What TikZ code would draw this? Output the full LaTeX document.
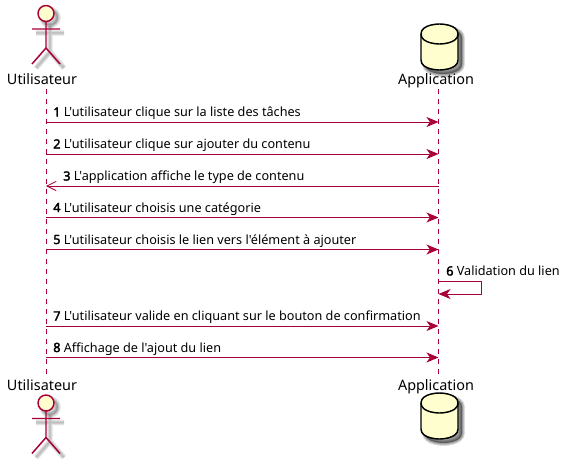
\documentclass[tikz,border=0pt]{standalone}
\usepackage{fontspec}
\setmainfont{Noto Sans}[Ligatures=TeXOff,AutoFakeBold=2.5]
\usetikzlibrary{positioning,arrows.meta}
\definecolor{umlred}{HTML}{A80036}
\definecolor{umlfill}{HTML}{FEFECE}
\newcommand{\dbbody}{(-18.5,10) .. controls (-18.5,0) and (0,0) .. (0,0) .. controls (0,0) and (18.5,0) .. (18.5,10)
  -- (18.5,36) .. controls (18.5,46) and (0,46) .. (0,46) .. controls (0,46) and (-18.5,46) .. (-18.5,36) -- cycle}
\newcommand{\actorbody}{(0,8) -- (0,34.5) (-14,15.5) -- (14,15.5) (0,34.5) -- (-14,50.5) (0,34.5) -- (14,50.5)}
\begin{document}
\begin{tikzpicture}[x=.75pt,y=-.75pt,line join=round,
  lifeline/.style={umlred,line width=.75pt,dash pattern=on 3.75pt off 3.75pt},
  msg/.style={umlred,line width=.75pt,-{Stealth[length=9pt,width=7.5pt,inset=2.6pt]}},
  msgback/.style={umlred,line width=.75pt,-{Straight Barb[length=7pt,width=7pt,line width=.6pt]}},
  partname/.style={font=\fontsize{10.8pt}{12pt}\selectfont,text=black,inner sep=0pt,anchor=base},
  msgtext/.style={font=\fontsize{9.5pt}{11pt}\selectfont,text=black,inner sep=0pt,anchor=base west},
  actorline/.style={umlred,line width=1.1pt},
  pics/actorfig/.style={code={
    % shadow
    \begin{scope}[shift={(4,4)}]
      \foreach \blur in {1,2,3,4}{
        \draw[black,opacity=.07,line width=\blur*1.1pt] \actorbody;
        \draw[black,opacity=.07,line width=\blur*1.1pt] (0,0) circle (8);
      }
      \fill[black,opacity=.2] (0,0) circle (8);
    \end{scope}
    \draw[actorline,fill=umlfill] (0,0) circle (8);
    \draw[actorline] \actorbody;
  }},
  pics/dbfig/.style={code={
    % shadow
    \begin{scope}[shift={(4,4)}]
      \foreach \blur in {1,2,3,4}{
        \draw[black,fill=black,opacity=.12,line width=\blur*1.1pt] \dbbody;
      }
    \end{scope}
    \draw[black,line width=1.1pt,fill=umlfill] \dbbody;
    \draw[black,line width=1.1pt] (-18.5,10) .. controls (-18.5,20) and (0,20) .. (0,20) .. controls (0,20) and (18.5,20) .. (18.5,10);
  }}]
  \useasboundingbox (0,0) rectangle (571,464);
  % participants
  \node[partname] (usertop) at (42,84.5) {Utilisateur};
  \node[partname] (apptop) at (436,84.5) {Application};
  \node[partname] (userbot) at (42,390) {Utilisateur};
  \node[partname] (appbot) at (436,390) {Application};
  \pic at (46,13.5) {actorfig};
  \pic at (46,403) {actorfig};
  \pic at (439.5,24) {dbfig};
  \pic at (439.5,393) {dbfig};
  \coordinate (utop) at (46,89);
  \coordinate (ubot) at (46,374);
  \coordinate (atop) at (438.5,89);
  \coordinate (abot) at (438.5,374);
  \draw[lifeline] (utop) -- (ubot);
  \draw[lifeline] (atop) -- (abot);
  % messages
  \foreach \name/\y in {m1/122,m2/154,m3/186,m4/217.5,m5/249.5,m6/281,m7/326,m8/357.5}{
    \coordinate (u\name) at (46,\y);
    \coordinate (a\name) at (438.5,\y);
  }
  \draw[msg] (um1) -- (am1);
  \draw[msg] (um2) -- (am2);
  \draw[msgback] (am3) -- (um3);
  \draw[msg] (um4) -- (am4);
  \draw[msg] (um5) -- (am5);
  \coordinate (selfa) at (481,281);
  \coordinate (selfb) at (481,294);
  \coordinate (selfc) at (438.5,294);
  \draw[msg] (am6) -- (selfa) -- (selfb) -- (selfc);
  \draw[msg] (um7) -- (am7);
  \draw[msg] (um8) -- (am8);
  % labels
  \node[msgtext] (t1) at (53,116.5) {\textbf{1} L'utilisateur clique sur la liste des tâches};
  \node[msgtext] (t2) at (53,148.5) {\textbf{2} L'utilisateur clique sur ajouter du contenu};
  \node[msgtext] (t3) at (63,180.5) {\textbf{3} L'application affiche le type de contenu};
  \node[msgtext] (t4) at (53,212) {\textbf{4} L'utilisateur choisis une catégorie};
  \node[msgtext] (t5) at (53,244) {\textbf{5} L'utilisateur choisis le lien vers l'élément à ajouter};
  \node[msgtext] (t6) at (446,275.5) {\textbf{6} Validation du lien};
  \node[msgtext] (t7) at (53,320.5) {\textbf{7} L'utilisateur valide en cliquant sur le bouton de confirmation};
  \node[msgtext] (t8) at (53,352) {\textbf{8} Affichage de l'ajout du lien};
\end{tikzpicture}
\end{document}
